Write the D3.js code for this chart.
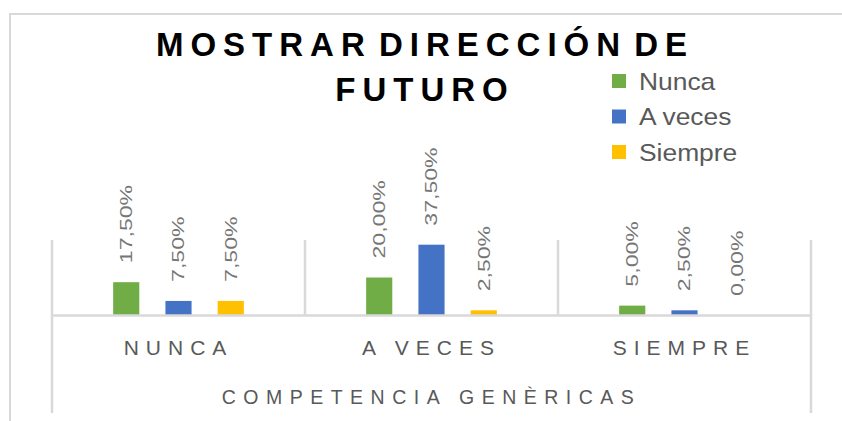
<!DOCTYPE html>
<html>
<head>
<meta charset="utf-8">
<script src="https://cdn.jsdelivr.net/npm/d3@7"></script>
<style>
  body { margin: 0; background: #fff; }
  text { font-family: "Liberation Sans", Arial, sans-serif; }
</style>
</head>
<body>
<div id="chart"></div>
<script>
// chart data
const categories = ["NUNCA", "A VECES", "SIEMPRE"];
const seriesNames = ["Nunca", "A veces", "Siempre"];
const nuncaValues = [17.5, 20.0, 5.0];
const aVecesValues = [7.5, 37.5, 2.5];
const siempreValues = [7.5, 2.5, 0.0];
const seriesColors = ["#70AD47", "#4472C4", "#FFC000"];
const titleLines = ["MOSTRAR DIRECCIÓN DE", "FUTURO"];
const axisTitle = "COMPETENCIA GENÈRICAS";

const seriesValues = [nuncaValues, aVecesValues, siempreValues];

const W = 842, H = 421;
const plot = { left: 52, right: 811, top: 240, bottom: 315 };

const svg = d3.select("#chart").append("svg")
    .attr("width", W)
    .attr("height", H);

// outer frame (cut by the picture edge on right / bottom)
svg.append("rect")
    .attr("x", 10).attr("y", 14)
    .attr("width", 900).attr("height", 500)
    .attr("fill", "none")
    .attr("stroke", "#d9d9d9")
    .attr("stroke-width", 2);

// Scales
const x0 = d3.scaleBand()
    .domain(categories)
    .range([plot.left, plot.right])
    .padding(0);

const x1 = d3.scaleBand()
    .domain(seriesNames)
    .range([0, x0.bandwidth()])
    .paddingInner(0.5)
    .paddingOuter(1.17);

const y = d3.scaleLinear()
    .domain([0, 40])
    .range([plot.bottom, plot.top]);

// vertical separators between categories
const seps = categories.map(c => x0(c)).concat([plot.right]);
svg.selectAll(".sep")
    .data(seps)
    .enter()
    .append("line")
    .attr("x1", d => d).attr("x2", d => d)
    .attr("y1", y(40))
    .attr("y2", (d, i) => (i === 0 || i === seps.length - 1) ? 413 : plot.bottom)
    .attr("stroke", "#d9d9d9")
    .attr("stroke-width", 2.5);

// Bars
const groups = svg.selectAll(".grp")
    .data(categories)
    .enter()
    .append("g")
    .attr("transform", d => "translate(" + x0(d) + ",0)");

const cells = groups.selectAll(".cell")
    .data((c, ci) => seriesNames.map((s, si) => ({ series: s, si: si, value: seriesValues[si][ci] })))
    .enter();

cells.append("rect")
    .attr("x", d => x1(d.series))
    .attr("width", x1.bandwidth())
    .attr("y", d => y(d.value))
    .attr("height", d => y(0) - y(d.value))
    .attr("fill", d => seriesColors[d.si]);

// rotated value labels
const fmt = v => v.toFixed(2).replace(".", ",") + "%";
cells.append("text")
    .attr("transform", d => "translate(" + (x1(d.series) + x1.bandwidth() / 2) + "," + (y(d.value) - 19) + ") rotate(-90) scale(1.4,1)")
    .attr("dy", "0.36em")
    .attr("fill", "#767676")
    .style("font-size", "16.5px")
    .text(d => fmt(d.value));

// category axis
const xAxis = svg.append("g")
    .attr("transform", "translate(0," + plot.bottom + ")")
    .call(d3.axisBottom(x0).tickSize(0).tickPadding(0));
xAxis.select(".domain")
    .attr("stroke", "#d9d9d9")
    .attr("stroke-width", 2.5);
xAxis.selectAll("text")
    .attr("y", 40)
    .attr("dy", 0)
    .attr("fill", "#595959")
    .style("font-size", "21px")
    .style("letter-spacing", "7px");

// axis title
svg.append("text")
    .attr("x", (plot.left + plot.right) / 2)
    .attr("y", 404)
    .attr("text-anchor", "middle")
    .attr("fill", "#595959")
    .style("font-size", "19.5px")
    .style("letter-spacing", "7.5px")
    .text(axisTitle);

// title
svg.selectAll(".title")
    .data(titleLines)
    .enter()
    .append("text")
    .attr("x", 425)
    .attr("y", (d, i) => 56 + i * 45)
    .attr("text-anchor", "middle")
    .attr("fill", "#000")
    .style("font-size", "33px")
    .style("font-weight", "bold")
    .style("letter-spacing", "7px")
    .style("word-spacing", "-9px")
    .text(d => d);

// legend
const legend = svg.selectAll(".leg")
    .data(seriesNames)
    .enter()
    .append("g")
    .attr("transform", (d, i) => "translate(612," + (81 + i * 35.5) + ")");

legend.append("rect")
    .attr("x", 0).attr("y", -7)
    .attr("width", 14).attr("height", 14)
    .attr("fill", (d, i) => seriesColors[i]);

legend.append("text")
    .attr("transform", "translate(27,0) scale(1.1,1)")
    .attr("dy", "0.36em")
    .attr("fill", "#595959")
    .style("font-size", "24px")
    .text(d => d);
</script>
</body>
</html>
